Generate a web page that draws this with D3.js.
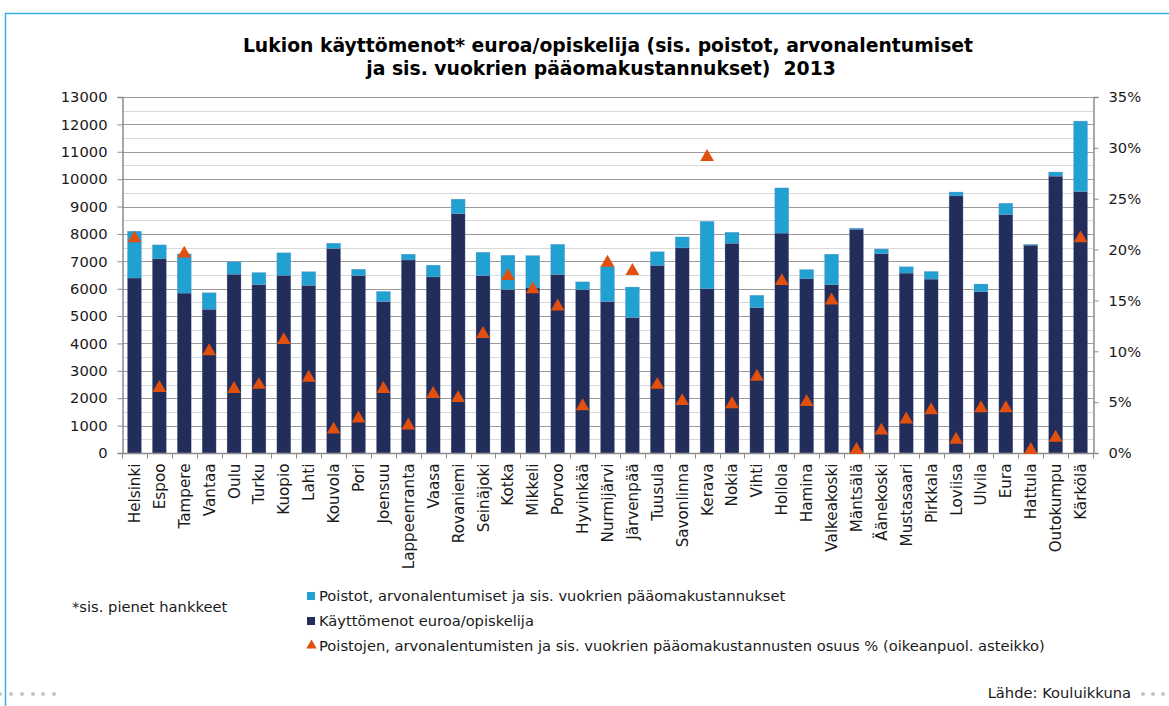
<!DOCTYPE html>
<html>
<head>
<meta charset="utf-8">
<script src="https://cdn.jsdelivr.net/npm/d3@7"></script>
<style>
  body { margin: 0; background: #fff; }
  svg { font-family: "DejaVu Sans", Verdana, sans-serif; }
</style>
</head>
<body>
<div id="chart"></div>
<script>
// Kunnat (x-akseli)
const cities = ['Helsinki', 'Espoo', 'Tampere', 'Vantaa', 'Oulu', 'Turku', 'Kuopio', 'Lahti',
  'Kouvola', 'Pori', 'Joensuu', 'Lappeenranta', 'Vaasa', 'Rovaniemi', 'Seinäjoki', 'Kotka',
  'Mikkeli', 'Porvoo', 'Hyvinkää', 'Nurmijärvi', 'Järvenpää', 'Tuusula', 'Savonlinna', 'Kerava',
  'Nokia', 'Vihti', 'Hollola', 'Hamina', 'Valkeakoski', 'Mäntsälä', 'Äänekoski', 'Mustasaari',
  'Pirkkala', 'Loviisa', 'Ulvila', 'Eura', 'Hattula', 'Outokumpu', 'Kärkölä'];

// Käyttömenot euroa/opiskelija
const operating = [6390, 7090, 5840, 5250, 6530, 6150, 6490, 6120, 7470, 6480, 5530, 7050, 6430,
  8740, 6480, 5970, 6030, 6520, 5960, 5530, 4950, 6850, 7490, 6000, 7660, 5310, 8030, 6360, 6150,
  8170, 7280, 6570, 6350, 9390, 5890, 8710, 7590, 10110, 9550];

// Poistot, arvonalentumiset ja sis. vuokrien pääomakustannukset
const depreciation = [1710, 510, 1430, 600, 450, 440, 820, 500, 190, 230, 370, 210, 430,
  530, 850, 1250, 1180, 1100, 290, 1290, 1110, 500, 400, 2460, 400, 450, 1650, 340, 1110,
  40, 170, 230, 280, 140, 280, 410, 30, 150, 2570];

// Osuus % (oikeanpuoleinen asteikko)
const share = [21.1, 6.4, 19.6, 10.0, 6.3, 6.7, 11.1, 7.4, 2.3, 3.4, 6.3, 2.7, 5.8, 5.4, 11.7,
  17.4, 16.1, 14.4, 4.6, 18.7, 17.9, 6.7, 5.1, 29.1, 4.8, 7.5, 16.9, 5.0, 15.0, 0.3, 2.2, 3.3,
  4.2, 1.3, 4.4, 4.4, 0.3, 1.5, 21.1];

const leftTicks = d3.range(0, 13001, 1000);
const rightTicks = d3.range(0, 36, 5);

const titleLines = ['Lukion käyttömenot* euroa/opiskelija (sis. poistot, arvonalentumiset',
  'ja sis. vuokrien pääomakustannukset)  2013'];
const footnote = '*sis. pienet hankkeet';
const legendLabels = ['Poistot, arvonalentumiset ja sis. vuokrien pääomakustannukset',
  'Käyttömenot euroa/opiskelija',
  'Poistojen, arvonalentumisten ja sis. vuokrien pääomakustannusten osuus % (oikeanpuol. asteikko)'];
const source = 'Lähde: Kouluikkuna';

const config = {
  width: 1169,
  height: 706,
  plot: { left: 122, right: 1093, top: 97, bottom: 453 },
  colourDark: '#222d5a',
  colourLight: '#21a0d2',
  colourMarker: '#e2500f',
  fontSize: 14.7
};

const svg = d3.select('#chart').append('svg')
  .attr('width', config.width)
  .attr('height', config.height);

// Frame (top and left blue lines)
svg.append('path')
  .attr('d', `M5.5,${config.height} V13.5 H${config.width}`)
  .attr('fill', 'none')
  .attr('stroke', '#3aaee6')
  .attr('stroke-width', 1.5);

const p = config.plot;

const x = d3.scaleBand()
  .domain(cities)
  .range([p.left, p.right])
  .paddingInner(0.44)
  .paddingOuter(0.22);

const y = d3.scaleLinear().domain([0, 13000]).range([p.bottom, p.top]);
const y2 = d3.scaleLinear().domain([0, 35]).range([p.bottom, p.top]);

// Gridlines: minor every 500, major every 1000
svg.append('g')
  .selectAll('line')
  .data(d3.range(500, 13000, 1000))
  .join('line')
    .attr('x1', p.left).attr('x2', p.right)
    .attr('y1', d => Math.round(y(d)) + 0.5).attr('y2', d => Math.round(y(d)) + 0.5)
    .attr('stroke', '#d9d9d9');

svg.append('g')
  .selectAll('line')
  .data(leftTicks.slice(1))
  .join('line')
    .attr('x1', p.left).attr('x2', p.right)
    .attr('y1', d => Math.round(y(d)) + 0.5).attr('y2', d => Math.round(y(d)) + 0.5)
    .attr('stroke', '#9a9a9a');

// Stacked bars
const stackData = cities.map((c, i) => ({ city: c, operating: operating[i], depreciation: depreciation[i] }));
const series = d3.stack().keys(['operating', 'depreciation'])(stackData);
const colours = { operating: config.colourDark, depreciation: config.colourLight };

svg.append('g')
  .selectAll('g')
  .data(series)
  .join('g')
    .attr('fill', d => colours[d.key])
  .selectAll('rect')
  .data(d => d)
  .join('rect')
    .attr('x', d => x(d.data.city))
    .attr('width', x.bandwidth())
    .attr('y', d => y(d[1]))
    .attr('height', d => y(d[0]) - y(d[1]))
    .attr('stroke', '#7f93c4')
    .attr('stroke-width', 0.4)
    .attr('stroke-opacity', 0.7);

// Axes
const axisColour = '#8c8c8c';
const fmt = d3.format('d');

const leftAxis = svg.append('g')
  .attr('transform', `translate(${p.left + 0.5},0)`)
  .call(d3.axisLeft(y).tickValues(leftTicks).tickFormat(fmt).tickSize(5).tickPadding(10));

const rightAxis = svg.append('g')
  .attr('transform', `translate(${p.right + 0.5},0)`)
  .call(d3.axisRight(y2).tickValues(rightTicks).tickFormat(d => d + '%').tickSize(5).tickPadding(10));

// x-axis with ticks at category boundaries
const bottomAxis = svg.append('g')
  .attr('transform', `translate(0,${p.bottom + 0.5})`);

bottomAxis.append('line')
  .attr('x1', p.left).attr('x2', p.right + 1)
  .attr('stroke', axisColour).attr('stroke-width', 1.5);

bottomAxis.selectAll('.boundary')
  .data(d3.range(cities.length + 1))
  .join('line')
    .attr('class', 'boundary')
    .attr('x1', i => Math.round(p.left + i * x.step()) + 0.5)
    .attr('x2', i => Math.round(p.left + i * x.step()) + 0.5)
    .attr('y1', 0).attr('y2', 5)
    .attr('stroke', axisColour);

bottomAxis.selectAll('.city-label')
  .data(cities)
  .join('text')
    .attr('class', 'city-label')
    .attr('transform', d => `translate(${x(d) + x.bandwidth() / 2 + 5.5},10) rotate(-90)`)
    .attr('text-anchor', 'end')
    .attr('font-size', 15.2)
    .attr('fill', '#1a1a1a')
    .text(d => d);

[leftAxis, rightAxis].forEach(a => {
  a.select('.domain').attr('stroke', axisColour).attr('stroke-width', 1.5);
  a.selectAll('.tick line').attr('stroke', axisColour);
  a.selectAll('.tick text')
    .attr('font-size', config.fontSize)
    .attr('font-family', 'DejaVu Sans, Verdana, sans-serif')
    .attr('fill', '#1a1a1a');
});

// Share markers
const triangle = d3.symbol().type(d3.symbolTriangle).size(82);

svg.append('g')
  .selectAll('path')
  .data(share)
  .join('path')
    .attr('transform', (d, i) => `translate(${x(cities[i]) + x.bandwidth() / 2},${y2(d)})`)
    .attr('d', triangle)
    .attr('fill', config.colourMarker);

// Title
svg.append('text')
  .attr('font-size', 18.8)
  .attr('font-weight', 'bold')
  .attr('text-anchor', 'middle')
  .attr('fill', '#000')
  .style('white-space', 'pre')
  .selectAll('tspan')
  .data(titleLines)
  .join('tspan')
    .attr('x', (d, i) => i === 0 ? 608 : 601)
    .attr('y', (d, i) => 52 + i * 23)
    .text(d => d);

// Footnote
svg.append('text')
  .attr('x', 72).attr('y', 612)
  .attr('font-size', config.fontSize)
  .attr('fill', '#1a1a1a')
  .text(footnote);

// Legend
const legend = svg.append('g').attr('transform', 'translate(307,0)');
const legendY = [596, 621, 646];

legend.selectAll('rect')
  .data([config.colourLight, config.colourDark])
  .join('rect')
    .attr('x', 0)
    .attr('y', (d, i) => legendY[i] - 4)
    .attr('width', 8).attr('height', 8)
    .attr('fill', d => d);

legend.append('path')
  .attr('transform', `translate(4.5,${legendY[2] - 0.5})`)
  .attr('d', d3.symbol().type(d3.symbolTriangle).size(48))
  .attr('fill', config.colourMarker);

legend.selectAll('text')
  .data(legendLabels)
  .join('text')
    .attr('x', 12)
    .attr('y', (d, i) => legendY[i])
    .attr('dy', '0.35em')
    .attr('font-size', config.fontSize)
    .attr('fill', '#1a1a1a')
    .text(d => d);

// Source
svg.append('text')
  .attr('x', 1131).attr('y', 693)
  .attr('dy', '0.35em')
  .attr('text-anchor', 'end')
  .attr('font-size', config.fontSize)
  .attr('fill', '#1a1a1a')
  .text(source);

// Decorative dots
const dotX = [0, 11, 22, 33, 43, 54, 1143, 1153, 1163];
svg.append('g')
  .selectAll('circle')
  .data(dotX)
  .join('circle')
    .attr('cx', d => d).attr('cy', 694)
    .attr('r', 2)
    .attr('fill', '#c4c4c4');
</script>
</body>
</html>
